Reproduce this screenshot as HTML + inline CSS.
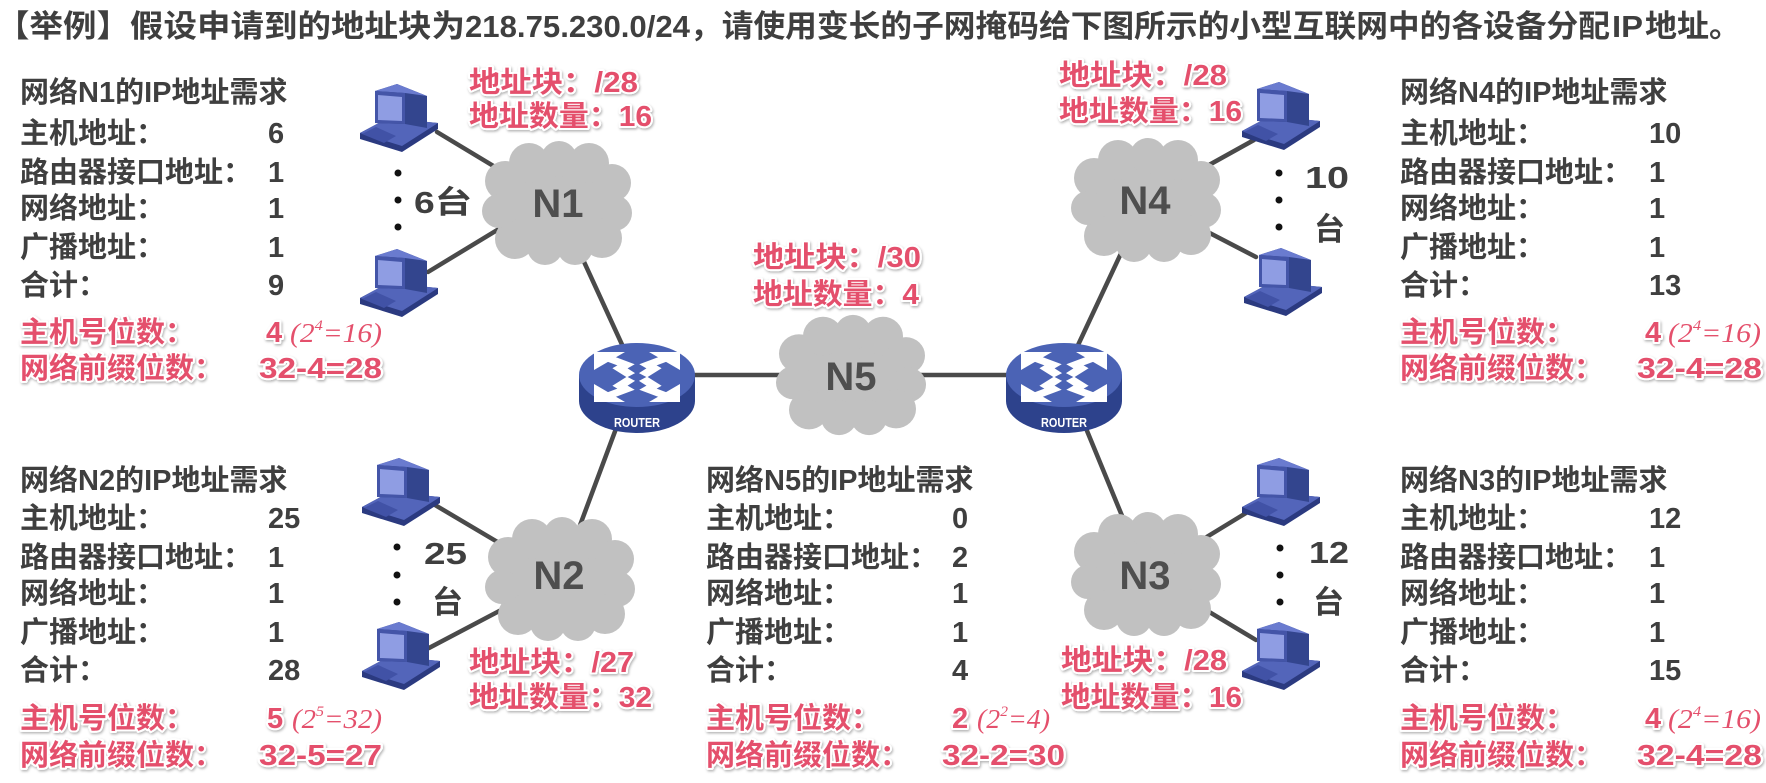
<!DOCTYPE html>
<html><head><meta charset="utf-8">
<style>
html,body{margin:0;padding:0;background:#fff;}
svg{display:block;}
.t{font-family:"Liberation Sans","Noto Sans CJK SC",sans-serif;font-weight:bold;fill:#3f3f3f;}
.p{font-family:"Liberation Sans","Noto Sans CJK SC",sans-serif;font-weight:bold;fill:#e4506c;stroke:#fff;stroke-width:4;paint-order:stroke;stroke-linejoin:round;}
.s{font-family:"Liberation Serif",serif;font-style:italic;fill:#e4506c;}
.c{font-family:"Liberation Sans",sans-serif;font-weight:bold;fill:#4e4e4e;}
</style></head><body>
<svg width="1766" height="783" viewBox="0 0 1766 783">
<defs>
<filter id="sh" x="-5%" y="-20%" width="110%" height="140%"><feDropShadow dx="1" dy="1.5" stdDeviation="1.4" flood-color="#000" flood-opacity="0.3"/></filter>
<g id="pc">
 <polygon points="0,52 28,37 78,42 78,48 42,71 0,58" fill="#2b3a80"/>
 <polygon points="0,52 28,37 78,42 42,65" fill="#5365ba"/>
 <polygon points="2,53 16,46 36,55 24,62" fill="#4152a6"/>
 <polygon points="15,10 37,3 67,15 67,47 45,43 15,42" fill="#33458e"/>
 <polygon points="15,10 37,3 67,15 45,12" fill="#6a7bcf"/>
 <polygon points="15,10 45,12 45,43 15,42" fill="#4455a8"/>
 <polygon points="18,14 42,16 42,40 18,39" fill="#8f9de3"/>
</g>
<g id="cloud" fill="#c1c1c1">
 <ellipse cx="0" cy="0" rx="60" ry="48"/>
 <circle cx="-52" cy="-22" r="20"/>
 <circle cx="-28" cy="-40" r="20"/>
 <circle cx="2" cy="-44" r="18"/>
 <circle cx="32" cy="-40" r="20"/>
 <circle cx="55" cy="-20" r="19"/>
 <circle cx="57" cy="10" r="18"/>
 <circle cx="45" cy="35" r="20"/>
 <circle cx="18" cy="44" r="18"/>
 <circle cx="-12" cy="44" r="18"/>
 <circle cx="-42" cy="36" r="20"/>
 <circle cx="-58" cy="8" r="17"/>
</g>
<g id="rt">
 <path d="M-58,0 V26 A58,32 0 0 0 58,26 V0 Z" fill="#2d428c"/>
 <ellipse rx="58" ry="32" fill="#4b63b5"/>
 <g transform="translate(0,2) scale(1,0.58)">
  <g stroke="#fff" stroke-width="11" fill="none" stroke-linejoin="miter">
   <polyline points="-6,-3 -17,-15 -11,-21 -28,-32"/>
   <polyline points="6,-3 17,-15 11,-21 28,-32"/>
   <polyline points="-6,3 -17,15 -11,21 -28,32"/>
   <polyline points="6,3 17,15 11,21 28,32"/>
  </g>
  <g fill="#fff">
   <polygon points="-43,-43 -12,-43 -43,-12"/>
   <polygon points="43,-43 12,-43 43,-12"/>
   <polygon points="-43,43 -12,43 -43,12"/>
   <polygon points="43,43 12,43 43,12"/>
  </g>
 </g>
</g>
</defs>

<!-- connectors -->
<g stroke="#4a4a4a" stroke-width="4.5" stroke-linecap="round">
 <line x1="437" y1="132" x2="540" y2="194"/>
 <line x1="428" y1="272" x2="540" y2="204"/>
 <line x1="557" y1="203" x2="636" y2="375"/>
 <line x1="650" y1="375" x2="1050" y2="375"/>
 <line x1="636" y1="375" x2="560" y2="579"/>
 <line x1="435" y1="505" x2="560" y2="579"/>
 <line x1="429" y1="648" x2="560" y2="579"/>
 <line x1="1064" y1="375" x2="1146" y2="200"/>
 <line x1="1064" y1="375" x2="1146" y2="574"/>
 <line x1="1254" y1="140" x2="1146" y2="200"/>
 <line x1="1256" y1="257" x2="1146" y2="200"/>
 <line x1="1246" y1="513" x2="1146" y2="574"/>
 <line x1="1256" y1="640" x2="1146" y2="574"/>
</g>

<!-- clouds -->
<use href="#cloud" transform="translate(557,203)"/>
<use href="#cloud" transform="translate(1146,200)"/>
<use href="#cloud" transform="translate(851,375) scale(1,0.97)"/>
<use href="#cloud" transform="translate(560,579)"/>
<use href="#cloud" transform="translate(1146,574)"/>
<text class="c" x="558" y="217" font-size="40" text-anchor="middle">N1</text>
<text class="c" x="1145" y="214" font-size="40" text-anchor="middle">N4</text>
<text class="c" x="851" y="390" font-size="40" text-anchor="middle">N5</text>
<text class="c" x="559" y="589" font-size="40" text-anchor="middle">N2</text>
<text class="c" x="1145" y="589" font-size="40" text-anchor="middle">N3</text>

<!-- routers -->
<use href="#rt" transform="translate(637,375)"/>
<use href="#rt" transform="translate(1064,375)"/>
<text x="637" y="427" font-family="Liberation Sans Narrow, Liberation Sans, sans-serif" font-weight="bold" font-size="13" fill="#fff" text-anchor="middle" textLength="46" lengthAdjust="spacingAndGlyphs">ROUTER</text>
<text x="1064" y="427" font-family="Liberation Sans Narrow, Liberation Sans, sans-serif" font-weight="bold" font-size="13" fill="#fff" text-anchor="middle" textLength="46" lengthAdjust="spacingAndGlyphs">ROUTER</text>

<!-- PCs -->
<use href="#pc" transform="translate(360,81)"/>
<use href="#pc" transform="translate(360,246)"/>
<use href="#pc" transform="translate(362,455)"/>
<use href="#pc" transform="translate(362,619)"/>
<use href="#pc" transform="translate(1242,79)"/>
<use href="#pc" transform="translate(1244,245)"/>
<use href="#pc" transform="translate(1242,455)"/>
<use href="#pc" transform="translate(1242,619)"/>

<!-- dots -->
<g fill="#111">
 <circle cx="398" cy="173" r="3.5"/><circle cx="398" cy="200" r="3.5"/><circle cx="398" cy="227" r="3.5"/>
 <circle cx="1279" cy="173" r="3.5"/><circle cx="1279" cy="200" r="3.5"/><circle cx="1279" cy="227" r="3.5"/>
 <circle cx="397" cy="547" r="3.5"/><circle cx="397" cy="575" r="3.5"/><circle cx="397" cy="602" r="3.5"/>
 <circle cx="1280" cy="548" r="3.5"/><circle cx="1280" cy="575" r="3.5"/><circle cx="1280" cy="602" r="3.5"/>
</g>

<!-- count labels -->
<g class="t" font-size="31" fill="#444">
 <text x="414" y="213" textLength="58" lengthAdjust="spacingAndGlyphs">6台</text>
 <text x="1305" y="188" textLength="44" lengthAdjust="spacingAndGlyphs">10</text>
 <text x="1314" y="240">台</text>
 <text x="424" y="564" textLength="43" lengthAdjust="spacingAndGlyphs">25</text>
 <text x="432" y="613">台</text>
 <text x="1309" y="563" textLength="40" lengthAdjust="spacingAndGlyphs">12</text>
 <text x="1313" y="613">台</text>
</g>

<!-- title -->
<g class="t" font-size="31" fill="#3b3b3b">
 <text x="-4" y="37" textLength="469" lengthAdjust="spacingAndGlyphs">【举例】假设申请到的地址块为</text>
 <text x="465" y="37" textLength="225" lengthAdjust="spacingAndGlyphs">218.75.230.0/24</text>
 <text x="690" y="37" textLength="920" lengthAdjust="spacingAndGlyphs">，请使用变长的子网掩码给下图所示的小型互联网中的各设备分配</text>
 <text x="1612" y="37" textLength="31" lengthAdjust="spacingAndGlyphs">IP</text>
 <text x="1645" y="37" textLength="96" lengthAdjust="spacingAndGlyphs">地址。</text>
</g>

<!-- pink address block labels -->
<g class="p" font-size="29" filter="url(#sh)">
 <text x="469" y="92" textLength="169" lengthAdjust="spacingAndGlyphs">地址块：/28</text>
 <text x="469" y="126" textLength="183" lengthAdjust="spacingAndGlyphs">地址数量：16</text>
 <text x="1059" y="85" textLength="168" lengthAdjust="spacingAndGlyphs">地址块：/28</text>
 <text x="1059" y="121" textLength="183" lengthAdjust="spacingAndGlyphs">地址数量：16</text>
 <text x="753" y="267" textLength="168" lengthAdjust="spacingAndGlyphs">地址块：/30</text>
 <text x="753" y="304" textLength="166" lengthAdjust="spacingAndGlyphs">地址数量：4</text>
 <text x="469" y="672" textLength="165" lengthAdjust="spacingAndGlyphs">地址块：/27</text>
 <text x="469" y="707" textLength="183" lengthAdjust="spacingAndGlyphs">地址数量：32</text>
 <text x="1061" y="670" textLength="166" lengthAdjust="spacingAndGlyphs">地址块：/28</text>
 <text x="1061" y="707" textLength="181" lengthAdjust="spacingAndGlyphs">地址数量：16</text>
</g>

<!-- N1 block -->
<g class="t" font-size="29">
 <text x="20" y="102">网络N1的IP地址需求</text>
 <text x="20" y="143">主机地址：</text><text x="268" y="143">6</text>
 <text x="20" y="182">路由器接口地址：</text><text x="268" y="182">1</text>
 <text x="20" y="218">网络地址：</text><text x="268" y="218">1</text>
 <text x="20" y="257">广播地址：</text><text x="268" y="257">1</text>
 <text x="20" y="295">合计：</text><text x="268" y="295">9</text>
</g>
<g class="p" font-size="29" filter="url(#sh)">
 <text x="20" y="342">主机号位数：</text><text x="266" y="342">4</text>
 <text x="20" y="378">网络前缀位数：</text><text x="259" y="378" textLength="123" lengthAdjust="spacingAndGlyphs">32-4=28</text>
</g>
<text class="s" x="290" y="342" font-size="27" textLength="92" lengthAdjust="spacingAndGlyphs">(2<tspan font-size="15" dy="-12">4</tspan><tspan dy="12">=16)</tspan></text>

<!-- N4 block -->
<g class="t" font-size="29">
 <text x="1400" y="102">网络N4的IP地址需求</text>
 <text x="1400" y="143">主机地址：</text><text x="1649" y="143">10</text>
 <text x="1400" y="182">路由器接口地址：</text><text x="1649" y="182">1</text>
 <text x="1400" y="218">网络地址：</text><text x="1649" y="218">1</text>
 <text x="1400" y="257">广播地址：</text><text x="1649" y="257">1</text>
 <text x="1400" y="295">合计：</text><text x="1649" y="295">13</text>
</g>
<g class="p" font-size="29" filter="url(#sh)">
 <text x="1400" y="342">主机号位数：</text><text x="1645" y="342">4</text>
 <text x="1400" y="378">网络前缀位数：</text><text x="1637" y="378" textLength="125" lengthAdjust="spacingAndGlyphs">32-4=28</text>
</g>
<text class="s" x="1668" y="342" font-size="27" textLength="93" lengthAdjust="spacingAndGlyphs">(2<tspan font-size="15" dy="-12">4</tspan><tspan dy="12">=16)</tspan></text>

<!-- N2 block -->
<g class="t" font-size="29">
 <text x="20" y="490">网络N2的IP地址需求</text>
 <text x="20" y="528">主机地址：</text><text x="268" y="528">25</text>
 <text x="20" y="567">路由器接口地址：</text><text x="268" y="567">1</text>
 <text x="20" y="603">网络地址：</text><text x="268" y="603">1</text>
 <text x="20" y="642">广播地址：</text><text x="268" y="642">1</text>
 <text x="20" y="680">合计：</text><text x="268" y="680">28</text>
</g>
<g class="p" font-size="29" filter="url(#sh)">
 <text x="20" y="728">主机号位数：</text><text x="267" y="728">5</text>
 <text x="20" y="765">网络前缀位数：</text><text x="259" y="765" textLength="123" lengthAdjust="spacingAndGlyphs">32-5=27</text>
</g>
<text class="s" x="292" y="728" font-size="27" textLength="90" lengthAdjust="spacingAndGlyphs">(2<tspan font-size="15" dy="-12">5</tspan><tspan dy="12">=32)</tspan></text>

<!-- N5 block -->
<g class="t" font-size="29">
 <text x="706" y="490">网络N5的IP地址需求</text>
 <text x="706" y="528">主机地址：</text><text x="952" y="528">0</text>
 <text x="706" y="567">路由器接口地址：</text><text x="952" y="567">2</text>
 <text x="706" y="603">网络地址：</text><text x="952" y="603">1</text>
 <text x="706" y="642">广播地址：</text><text x="952" y="642">1</text>
 <text x="706" y="680">合计：</text><text x="952" y="680">4</text>
</g>
<g class="p" font-size="29" filter="url(#sh)">
 <text x="706" y="728">主机号位数：</text><text x="952" y="728">2</text>
 <text x="706" y="765">网络前缀位数：</text><text x="942" y="765" textLength="123" lengthAdjust="spacingAndGlyphs">32-2=30</text>
</g>
<text class="s" x="977" y="728" font-size="27" textLength="73" lengthAdjust="spacingAndGlyphs">(2<tspan font-size="15" dy="-12">2</tspan><tspan dy="12">=4)</tspan></text>

<!-- N3 block -->
<g class="t" font-size="29">
 <text x="1400" y="490">网络N3的IP地址需求</text>
 <text x="1400" y="528">主机地址：</text><text x="1649" y="528">12</text>
 <text x="1400" y="567">路由器接口地址：</text><text x="1649" y="567">1</text>
 <text x="1400" y="603">网络地址：</text><text x="1649" y="603">1</text>
 <text x="1400" y="642">广播地址：</text><text x="1649" y="642">1</text>
 <text x="1400" y="680">合计：</text><text x="1649" y="680">15</text>
</g>
<g class="p" font-size="29" filter="url(#sh)">
 <text x="1400" y="728">主机号位数：</text><text x="1645" y="728">4</text>
 <text x="1400" y="765">网络前缀位数：</text><text x="1637" y="765" textLength="125" lengthAdjust="spacingAndGlyphs">32-4=28</text>
</g>
<text class="s" x="1668" y="728" font-size="27" textLength="93" lengthAdjust="spacingAndGlyphs">(2<tspan font-size="15" dy="-12">4</tspan><tspan dy="12">=16)</tspan></text>
</svg>
</body></html>
